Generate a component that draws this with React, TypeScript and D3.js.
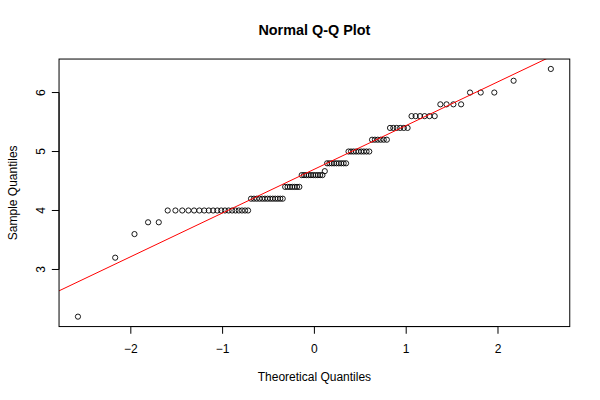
import React from "react";
import * as d3 from "d3";

// Sorted sample values (n = 100)
const sampleValues: number[] = [
  2.2, 3.2, 3.6, 3.8, 3.8,
  4.0, 4.0, 4.0, 4.0, 4.0, 4.0, 4.0, 4.0, 4.0, 4.0, 4.0, 4.0, 4.0, 4.0, 4.0, 4.0, 4.0, 4.0, 4.0,
  4.2, 4.2, 4.2, 4.2, 4.2, 4.2, 4.2, 4.2, 4.2, 4.2, 4.2, 4.2, 4.2,
  4.4, 4.4, 4.4, 4.4, 4.4, 4.4, 4.4,
  4.6, 4.6, 4.6, 4.6, 4.6, 4.6, 4.6, 4.6, 4.6, 4.6,
  4.667,
  4.8, 4.8, 4.8, 4.8, 4.8, 4.8, 4.8, 4.8, 4.8,
  5.0, 5.0, 5.0, 5.0, 5.0, 5.0, 5.0, 5.0, 5.0,
  5.2, 5.2, 5.2, 5.2, 5.2, 5.2,
  5.4, 5.4, 5.4, 5.4, 5.4, 5.4,
  5.6, 5.6, 5.6, 5.6, 5.6, 5.6,
  5.8, 5.8, 5.8, 5.8,
  6.0, 6.0, 6.0,
  6.2, 6.4,
];

const xTicks: number[] = [-2, -1, 0, 1, 2];
const yTicks: number[] = [3, 4, 5, 6];
const titleText = "Normal Q-Q Plot";
const xLabel = "Theoretical Quantiles";
const yLabel = "Sample Quantiles";

// Inverse standard normal CDF (Acklam)
function qnorm(p: number): number {
  const a = [-3.969683028665376e1, 2.209460984245205e2, -2.759285104469687e2, 1.38357751867269e2, -3.066479806614716e1, 2.506628277459239];
  const b = [-5.447609879822406e1, 1.615858368580409e2, -1.556989798598866e2, 6.680131188771972e1, -1.328068155288572e1];
  const c = [-7.784894002430293e-3, -3.223964580411365e-1, -2.400758277161838, -2.549732539343734, 4.374664141464968, 2.938163982698783];
  const d = [7.784695709041462e-3, 3.224671290700398e-1, 2.445134137142996, 3.754408661907416];
  const plow = 0.02425;
  const phigh = 1 - plow;
  let q: number, r: number;
  if (p < plow) {
    q = Math.sqrt(-2 * Math.log(p));
    return (((((c[0] * q + c[1]) * q + c[2]) * q + c[3]) * q + c[4]) * q + c[5]) /
      ((((d[0] * q + d[1]) * q + d[2]) * q + d[3]) * q + 1);
  } else if (p <= phigh) {
    q = p - 0.5;
    r = q * q;
    return (((((a[0] * r + a[1]) * r + a[2]) * r + a[3]) * r + a[4]) * r + a[5]) * q /
      (((((b[0] * r + b[1]) * r + b[2]) * r + b[3]) * r + b[4]) * r + 1);
  } else {
    q = Math.sqrt(-2 * Math.log(1 - p));
    return -(((((c[0] * q + c[1]) * q + c[2]) * q + c[3]) * q + c[4]) * q + c[5]) /
      ((((d[0] * q + d[1]) * q + d[2]) * q + d[3]) * q + 1);
  }
}

// R's ppoints
function ppoints(n: number): number[] {
  const a = n <= 10 ? 3 / 8 : 0.5;
  return d3.range(1, n + 1).map((i) => (i - a) / (n + 1 - 2 * a));
}

export default function App() {
  const W = 600, H = 400;
  const L = 59.04, T = 59.04, R = 569.76, B = 326.56;
  const n = sampleValues.length;
  const theo = ppoints(n).map(qnorm);
  const pts = theo.map((t, i) => ({ x: t, y: sampleValues[i] }));

  const xmin = d3.min(theo)!, xmax = d3.max(theo)!;
  const ymin = d3.min(sampleValues)!, ymax = d3.max(sampleValues)!;
  const xp = (xmax - xmin) * 0.04, yp = (ymax - ymin) * 0.04;
  const x = d3.scaleLinear().domain([xmin - xp, xmax + xp]).range([L, R]);
  const y = d3.scaleLinear().domain([ymin - yp, ymax + yp]).range([B, T]);

  // qqline through quartiles (type 7)
  const sorted = [...sampleValues].sort((a, b) => a - b);
  const q1 = d3.quantileSorted(sorted, 0.25)!;
  const q3 = d3.quantileSorted(sorted, 0.75)!;
  const t1 = qnorm(0.25), t3 = qnorm(0.75);
  const slope = (q3 - q1) / (t3 - t1);
  const intercept = q1 - slope * t1;
  const [dx0, dx1] = x.domain();
  const lx0 = dx0, lx1 = dx1;
  const line = d3.line<[number, number]>()
    .x((d) => x(d[0]))
    .y((d) => y(d[1]));
  const fmt = (v: number) => d3.format("d")(v);

  const font = "Liberation Sans, Arial, Helvetica, sans-serif";
  return (
    <svg width={W} height={H} style={{ position: "absolute", left: 0, top: 0, background: "#fff" }} fontFamily={font}>
      <rect x={0} y={0} width={W} height={H} fill="#fff" />
      <defs>
        <clipPath id="plotclip">
          <rect x={L} y={T} width={R - L} height={B - T} />
        </clipPath>
      </defs>
      {/* points */}
      {pts.map((p, i) => (
        <circle key={i} cx={x(p.x)} cy={y(p.y)} r={2.6} fill="none" stroke="#000" strokeWidth={0.9} />
      ))}
      {/* qqline */}
      <path
        d={line([[lx0, intercept + slope * lx0], [lx1, intercept + slope * lx1]])!}
        stroke="#ff0000"
        strokeWidth={1}
        fill="none"
        clipPath="url(#plotclip)"
      />
      {/* box */}
      <rect x={L} y={T} width={R - L} height={B - T} fill="none" stroke="#000" strokeWidth={1} />
      {/* x axis */}
      <line x1={x(xTicks[0])} x2={x(xTicks[xTicks.length - 1])} y1={B} y2={B} stroke="#000" />
      {xTicks.map((t) => (
        <g key={t}>
          <line x1={x(t)} x2={x(t)} y1={B} y2={B + 7.2} stroke="#000" />
          <text x={x(t)} y={352.5} textAnchor="middle" fontSize={12}>{fmt(t)}</text>
        </g>
      ))}
      {/* y axis */}
      <line x1={L} x2={L} y1={y(yTicks[0])} y2={y(yTicks[yTicks.length - 1])} stroke="#000" />
      {yTicks.map((t) => (
        <g key={t}>
          <line x1={L - 7.2} x2={L} y1={y(t)} y2={y(t)} stroke="#000" />
          <text transform={`translate(45,${y(t)}) rotate(-90)`} textAnchor="middle" fontSize={12}>{fmt(t)}</text>
        </g>
      ))}
      <text x={(L + R) / 2} y={381} textAnchor="middle" fontSize={12}>{xLabel}</text>
      <text transform={`translate(17,${(T + B) / 2}) rotate(-90)`} textAnchor="middle" fontSize={12}>{yLabel}</text>
      <text x={(L + R) / 2} y={35} textAnchor="middle" fontSize={14.4} fontWeight="bold">{titleText}</text>
    </svg>
  );
}
